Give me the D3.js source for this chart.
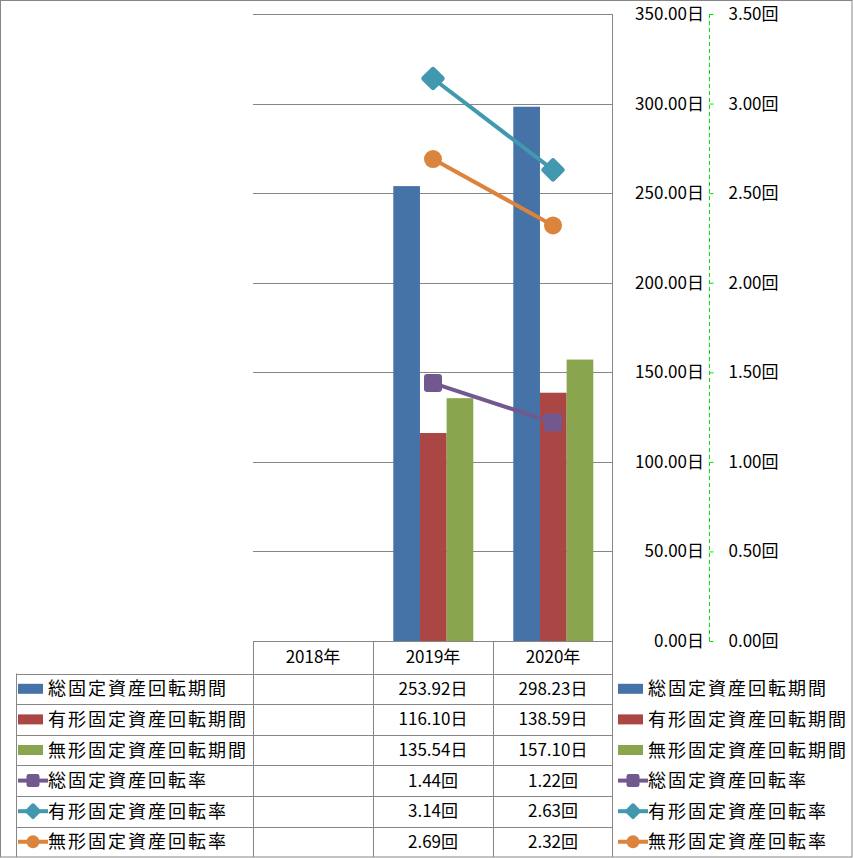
<!DOCTYPE html>
<html><head><meta charset="utf-8">
<script src="https://cdn.jsdelivr.net/npm/d3@7"></script>
<style>
html,body{margin:0;padding:0;background:#fff;}
svg{display:block;font-family:"Noto Sans CJK JP","Noto Sans",sans-serif;}
</style></head>
<body>
<script>
const categories = ["2018年","2019年","2020年"];
const barSeries = ["総固定資産回転期間","有形固定資産回転期間","無形固定資産回転期間"];
const barValues = [
  [null, 253.92, 298.23],
  [null, 116.10, 138.59],
  [null, 135.54, 157.10]
];
const lineSeries = ["総固定資産回転率","有形固定資産回転率","無形固定資産回転率"];
const lineValues = [
  [null, 1.44, 1.22],
  [null, 3.14, 2.63],
  [null, 2.69, 2.32]
];
const barColors = ["#4572A7","#AA4643","#89A54E"];
const lineColors = ["#71588F","#4198AF","#DB843D"];
const markerTypes = ["square","diamond","circle"];
const yTicks = [0,50,100,150,200,250,300,350];
const y2Ticks = [0,0.5,1,1.5,2,2.5,3,3.5];

const W = 853, H = 858;
const svg = d3.select("body").append("svg").attr("width", W).attr("height", H);
const grid = "#868686";

const x = d3.scaleBand().domain(categories).range([253, 613]);
const y = d3.scaleLinear().domain([0,350]).range([641,14]);
const y2 = d3.scaleLinear().domain([0,3.5]).range([641,14]);
const xs = d3.scaleBand().domain(barSeries).range([20.3, 100.3]);

// outer border
svg.append("rect").attr("x",0.5).attr("y",0.5).attr("width",W-1.5).attr("height",H-1.5)
  .attr("fill","none").attr("stroke",grid);

// gridlines
svg.append("g").selectAll("line").data(yTicks).join("line")
  .attr("x1",253).attr("x2",613).attr("y1",d=>Math.round(y(d))+0.5).attr("y2",d=>Math.round(y(d))+0.5)
  .attr("stroke",grid).attr("stroke-width",1);
// right plot border
svg.append("line").attr("x1",612.5).attr("x2",612.5).attr("y1",14).attr("y2",857).attr("stroke",grid);

// primary axis labels
const ax1 = svg.append("g").attr("transform","translate(704,0)")
  .call(d3.axisRight(y).tickValues(yTicks).tickSize(0).tickPadding(0).tickFormat(d=>d.toFixed(2)+"日"));
ax1.select(".domain").remove();
ax1.selectAll("text").attr("text-anchor","end").attr("x",0).attr("font-size",17).attr("font-family","Noto Sans CJK JP").attr("fill","#000");

// secondary axis
const ax2 = svg.append("g").attr("transform","translate(709.5,0)")
  .call(d3.axisRight(y2).tickValues(y2Ticks).tickSize(4).tickPadding(15).tickFormat(d=>d.toFixed(2)+"回"));
ax2.select(".domain").attr("stroke","#00e600").attr("stroke-dasharray","4,3").attr("d","M0,14V641");
ax2.selectAll(".tick line").attr("stroke","#00e600");
ax2.selectAll("text").attr("font-size",17).attr("font-family","Noto Sans CJK JP").attr("fill","#000");

// bars
barSeries.forEach((s,i)=>{
  svg.append("g").selectAll("rect").data(categories.map((c,j)=>({c,v:barValues[i][j]})).filter(d=>d.v!=null)).join("rect")
    .attr("x",d=>x(d.c)+xs(s)).attr("width",xs.bandwidth())
    .attr("y",d=>y(d.v)).attr("height",d=>y(0)-y(d.v)).attr("fill",barColors[i]);
});

function marker(g, type, color, size){
  if(type==="square"){
    g.append("rect").attr("x",-size/2).attr("y",-size/2).attr("width",size).attr("height",size)
      .attr("rx",size*0.18).attr("fill",color);
  } else if(type==="diamond"){
    const s = size*0.72;
    g.append("rect").attr("x",-s/2).attr("y",-s/2).attr("width",s).attr("height",s)
      .attr("rx",s*0.15).attr("transform","rotate(45)").attr("fill",color);
  } else {
    g.append("circle").attr("r",size/2).attr("fill",color);
  }
}

// lines
lineSeries.forEach((s,i)=>{
  const pts = categories.map((c,j)=>({c,v:lineValues[i][j]})).filter(d=>d.v!=null);
  svg.append("path").datum(pts)
    .attr("d", d3.line().x(d=>x(d.c)+x.bandwidth()/2).y(d=>y2(d.v)))
    .attr("fill","none").attr("stroke",lineColors[i]).attr("stroke-width",4);
  pts.forEach(p=>{
    const g = svg.append("g").attr("transform",`translate(${x(p.c)+x.bandwidth()/2},${y2(p.v)})`);
    marker(g, markerTypes[i], lineColors[i], markerTypes[i]==="diamond"?25:18);
  });
});

// data table
const rowY = [641, 673.5, 704.1, 734.7, 765.3, 795.9, 826.5, 857];
const tb = svg.append("g");
rowY.forEach((yy,k)=>{
  if(k===0) tb.append("line").attr("x1",253).attr("x2",613).attr("y1",yy+0.5).attr("y2",yy+0.5).attr("stroke",grid);
  else if(k<rowY.length-1) tb.append("line").attr("x1",16).attr("x2",613).attr("y1",Math.round(yy)+0.5).attr("y2",Math.round(yy)+0.5).attr("stroke",grid);
});
[253,372.5,492.5].forEach(xx=>{
  tb.append("line").attr("x1",Math.round(xx)+0.5).attr("x2",Math.round(xx)+0.5).attr("y1",641).attr("y2",857).attr("stroke",grid);
});
tb.append("line").attr("x1",16.5).attr("x2",16.5).attr("y1",rowY[1]).attr("y2",857).attr("stroke",grid);

// header
tb.selectAll("text.h").data(categories).join("text").attr("class","h")
  .attr("x",d=>x(d)+x.bandwidth()/2).attr("y",(rowY[0]+rowY[1])/2+6)
  .attr("text-anchor","middle").attr("font-size",17).text(d=>d);

const allSeries = barSeries.concat(lineSeries);
const allValues = barValues.concat(lineValues);
const units = ["日","日","日","回","回","回"];

function legendKey(g, k, x0){
  if(k<3){
    g.append("rect").attr("x",x0).attr("y",-5).attr("width",25).attr("height",10).attr("fill",barColors[k]);
  } else {
    const i = k-3;
    g.append("line").attr("x1",x0).attr("x2",x0+30).attr("y1",0).attr("y2",0).attr("stroke",lineColors[i]).attr("stroke-width",4);
    const m = g.append("g").attr("transform",`translate(${x0+15},0)`);
    marker(m, markerTypes[i], lineColors[i], markerTypes[i]==="diamond"?17:13);
  }
}

allSeries.forEach((s,k)=>{
  const cy = (rowY[k+1]+rowY[k+2])/2;
  const g = tb.append("g").attr("transform",`translate(0,${cy})`);
  legendKey(g,k,18);
  g.append("text").attr("x",48).attr("y",6.5).attr("font-size",18).attr("letter-spacing",2).text(s);
  categories.forEach((c,j)=>{
    const v = allValues[k][j];
    if(v==null) return;
    g.append("text").attr("x",x(c)+x.bandwidth()/2).attr("y",6).attr("text-anchor","middle")
      .attr("font-size",17).text(v.toFixed(2)+units[k]);
  });
  const g2 = svg.append("g").attr("transform",`translate(0,${cy})`);
  legendKey(g2,k,618);
  g2.append("text").attr("x",648).attr("y",6.5).attr("font-size",18).attr("letter-spacing",2).text(s);
});
</script>
</body></html>
